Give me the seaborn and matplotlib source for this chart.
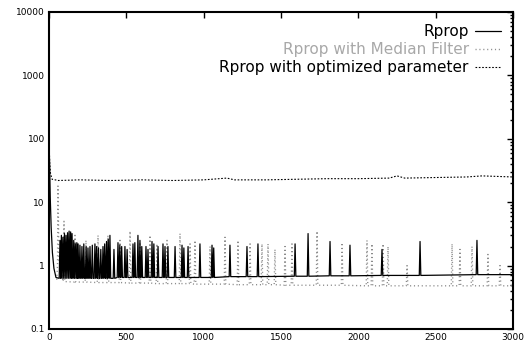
import numpy as np
import pandas as pd
import matplotlib
matplotlib.use("Agg")
import matplotlib.pyplot as plt
import seaborn as sns
from matplotlib.ticker import LogLocator, FixedLocator, FixedFormatter, NullFormatter

# ---------------- data ----------------
x_ticks = [0, 500, 1000, 1500, 2000, 2500, 3000]
x_tick_labels = ["0", "500", "1000", "1500", "2000", "2500", "3000"]
y_ticks = [0.1, 1, 10, 100, 1000, 10000]
y_tick_labels = ["0.1", "1", "10", "100", "1000", "10000"]

# Rprop: initial descent, then oscillation spikes above a baseline
rprop_start_x = [0, 4, 8, 14, 22, 32, 45]
rprop_start_y = [80, 40, 12, 4, 1.6, 0.9, 0.65]
rprop_spike_x = [71, 80, 90, 100, 110, 120, 130, 140, 149, 160,
                 170, 180, 188, 200, 213, 225, 240, 252, 265, 280,
                 297, 308, 320, 335, 349, 360, 372, 383, 394, 420,
                 446, 458, 470, 491, 505, 543, 555, 575, 588, 600,
                 627, 640, 666, 678, 705, 737, 750, 769, 815, 860,
                 872, 899, 976, 1054, 1065, 1170, 1280, 1351, 1591, 1675,
                 1817, 1946, 2153, 2399, 2767]
rprop_spike_top = [2.5, 3.0, 2.8, 3.2, 3.0, 3.3, 3.5, 3.4, 3.2, 2.5,
                   2.2, 2.3, 2.2, 2.1, 2.0, 2.2, 2.0, 1.9, 2.0, 2.1,
                   2.2, 2.0, 1.9, 1.8, 2.0, 2.2, 2.4, 2.6, 3.0, 1.8,
                   2.3, 2.1, 2.0, 2.0, 1.8, 2.2, 2.3, 3.0, 2.5, 2.0,
                   2.0, 1.8, 2.4, 2.2, 2.0, 2.2, 2.0, 2.0, 2.0, 2.1,
                   1.9, 2.0, 2.2, 2.1, 1.9, 2.1, 2.0, 2.2, 2.2, 3.2,
                   2.4, 2.1, 1.8, 2.4, 2.5]
rprop_spike_base = [0.63, 0.63, 0.63, 0.63, 0.63, 0.63, 0.63, 0.63, 0.63, 0.63,
                    0.63, 0.63, 0.63, 0.63, 0.63, 0.63, 0.63, 0.63, 0.63, 0.63,
                    0.63, 0.63, 0.63, 0.63, 0.63, 0.63, 0.63, 0.63, 0.63, 0.63,
                    0.65, 0.65, 0.65, 0.65, 0.65, 0.65, 0.65, 0.65, 0.65, 0.65,
                    0.65, 0.65, 0.65, 0.65, 0.65, 0.65, 0.65, 0.65, 0.65, 0.65,
                    0.65, 0.65, 0.65, 0.65, 0.65, 0.67, 0.67, 0.67, 0.68, 0.68,
                    0.69, 0.69, 0.70, 0.70, 0.72]
rprop_end = (3000, 0.72)

# Rprop with Median Filter: scattered (dotted) spikes above a lower baseline
median_start_x = [50, 55, 58, 61, 64]
median_start_y = [0.6, 1.0, 18, 5, 1.2]
median_spike_x = [97, 168, 239, 317, 381, 459, 524, 588, 653, 698, 763, 847, 912, 944,
                  1041, 1138, 1222, 1300, 1377, 1416, 1461, 1526, 1571, 1733, 1895, 2056,
                  2088, 2160, 2192, 2315, 2606, 2657, 2735, 2838, 2916]
median_spike_top = [5.0, 3.0, 2.5, 3.0, 3.0, 2.5, 3.5, 2.2, 3.0, 2.2, 2.5, 3.2, 2.2, 2.5,
                    2.0, 2.8, 2.5, 2.2, 2.2, 2.2, 1.8, 2.0, 2.2, 3.5, 2.3, 2.5,
                    2.2, 2.2, 2.0, 1.0, 2.2, 1.8, 2.0, 1.5, 1.0]
median_spike_base = [0.56, 0.55, 0.55, 0.54, 0.54, 0.54, 0.53, 0.53, 0.53, 0.52, 0.52, 0.52, 0.52, 0.51,
                     0.51, 0.51, 0.50, 0.50, 0.50, 0.50, 0.50, 0.49, 0.49, 0.49, 0.49, 0.48,
                     0.48, 0.48, 0.48, 0.48, 0.48, 0.48, 0.48, 0.48, 0.48]
median_end = (3000, 0.48)

# Rprop with optimized parameter
opt_x = [0, 5, 10, 20, 60, 200, 400, 600, 800, 1000, 1150, 1200, 1400, 1600,
         1800, 2000, 2200, 2250, 2300, 2500, 2700, 2800, 3000]
opt_y = [100, 40, 28, 23, 22, 22.5, 22, 22.5, 22, 22.5, 24, 22.5, 22.5, 23,
         23.5, 23.5, 24, 26, 24, 24.5, 25, 26, 25]

labels = ["Rprop", "Rprop with Median Filter", "Rprop with optimized parameter"]


def spike_path(sx, sy, xs, tops, bases, end, half=5):
    px, py = list(sx), list(sy)
    for x, t, b in zip(xs, tops, bases):
        px += [x - half, x, x + half]
        py += [b, t, b]
    px.append(end[0])
    py.append(end[1])
    return px, py


rx, ry = spike_path(rprop_start_x, rprop_start_y, rprop_spike_x, rprop_spike_top, rprop_spike_base, rprop_end)
mx, my = spike_path(median_start_x, median_start_y, median_spike_x, median_spike_top, median_spike_base, median_end)

df_r = pd.DataFrame({"x": rx, "y": ry})
df_m = pd.DataFrame({"x": mx, "y": my})
df_o = pd.DataFrame({"x": opt_x, "y": opt_y})

# ---------------- figure ----------------
sns.set_theme(style="white")
plt.rcParams["font.family"] = ["DejaVu Sans"]
plt.rcParams["text.color"] = "black"

fig = plt.figure(figsize=(5.26, 3.45), dpi=100)
ax = fig.add_axes([49 / 526, 1 - 329 / 345, (513 - 49) / 526, (329 - 12) / 345])

sns.lineplot(data=df_m, x="x", y="y", sort=False, estimator=None, ax=ax,
             color="#8c8c8c", lw=1.0, linestyle=(0, (0.8, 2.0)), label=labels[1])
sns.lineplot(data=df_r, x="x", y="y", sort=False, estimator=None, ax=ax,
             color="black", lw=0.9, label=labels[0])
sns.lineplot(data=df_o, x="x", y="y", sort=False, estimator=None, ax=ax,
             color="black", lw=0.8, linestyle=(0, (1.5, 1.5)), label=labels[2])

ax.set_yscale("log")
ax.set_xlim(0, 3000)
ax.set_ylim(0.1, 10000)
ax.set_xlabel("")
ax.set_ylabel("")

ax.xaxis.set_major_locator(FixedLocator(x_ticks))
ax.xaxis.set_major_formatter(FixedFormatter(x_tick_labels))
ax.yaxis.set_major_locator(FixedLocator(y_ticks))
ax.yaxis.set_major_formatter(FixedFormatter(y_tick_labels))
ax.yaxis.set_minor_locator(LogLocator(base=10, subs=np.arange(2, 10)))
ax.yaxis.set_minor_formatter(NullFormatter())

ax.tick_params(which="both", direction="in", top=True, right=True, colors="black",
               labelsize=6.5, width=1.0)
ax.tick_params(which="major", length=4, pad=3)
ax.tick_params(which="minor", length=2)
for s in ax.spines.values():
    s.set_color("black")
    s.set_linewidth(1.5)

handles, labs = ax.get_legend_handles_labels()
order = [labs.index(l) for l in labels]
leg = ax.legend([handles[i] for i in order], [labs[i] for i in order],
                loc="upper right", markerfirst=False, frameon=False, fontsize=11,
                handlelength=1.7, handletextpad=0.4, labelspacing=0.2,
                borderaxespad=0.4)
for t in leg.get_texts():
    t.set_color("black")
leg.get_texts()[1].set_color("#a8a8a8")

fig.savefig("out.png", dpi=100)
